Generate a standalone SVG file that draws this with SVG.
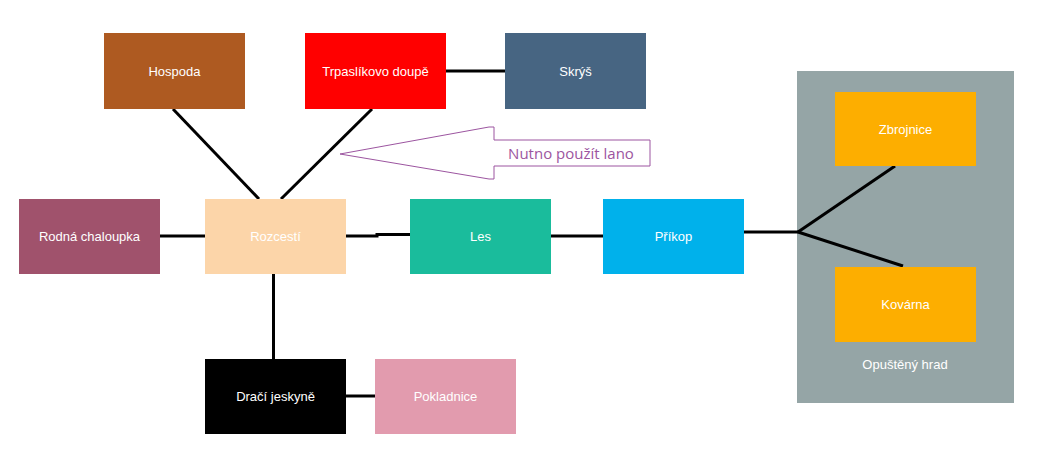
<svg xmlns="http://www.w3.org/2000/svg" width="1041" height="457" viewBox="0 0 1041 457">
<style>
.lbl{font-family:"Liberation Sans",Arial,sans-serif;font-size:13px;fill:#ffffff;text-anchor:middle}
.con{stroke:#000;stroke-width:3;fill:none}
</style>
<rect width="1041" height="457" fill="#ffffff"/>
<g id="opusteny-hrad">
<rect x="797" y="71" width="217" height="332" fill="#95a5a6"/>
<text class="lbl" x="905" y="369">Opuštěný hrad</text>
</g>
<g id="connectors">
<line class="con" x1="173" y1="109" x2="259" y2="199"/>
<line class="con" x1="372" y1="109" x2="281" y2="199"/>
<line class="con" x1="446" y1="71" x2="505" y2="71"/>
<line class="con" x1="160" y1="236" x2="205" y2="236"/>
<polyline class="con" points="346,236 377,236 377,234.5 410,234.5"/>
<line class="con" x1="551" y1="236" x2="603" y2="236"/>
<line class="con" x1="744" y1="232" x2="798" y2="232"/>
<line class="con" x1="798" y1="232" x2="895" y2="166"/>
<line class="con" x1="798" y1="232" x2="903" y2="266"/>
<line class="con" x1="273.5" y1="274" x2="273.5" y2="359"/>
<line class="con" x1="346" y1="396" x2="375" y2="396"/>
</g>
<g id="hospoda"><rect x="104" y="33" width="141" height="76" fill="#ae5a21"/><text class="lbl" x="174.5" y="75.5">Hospoda</text></g>
<g id="trpaslikovo-doupe"><rect x="305" y="33" width="141" height="76" fill="#ff0000"/><text class="lbl" x="375.5" y="75.5">Trpaslíkovo doupě</text></g>
<g id="skrys"><rect x="505" y="33" width="141" height="76" fill="#476582"/><text class="lbl" x="575.5" y="75.5">Skrýš</text></g>
<g id="rodna-chaloupka"><rect x="19" y="199" width="141" height="75" fill="#a0526c"/><text class="lbl" x="89.5" y="241">Rodná chaloupka</text></g>
<g id="rozcesti"><rect x="205" y="199" width="141" height="75" fill="#fcd5a9"/><text class="lbl" x="275.5" y="241">Rozcestí</text></g>
<g id="les"><rect x="410" y="199" width="141" height="75" fill="#1abc9c"/><text class="lbl" x="480.5" y="241">Les</text></g>
<g id="prikop"><rect x="603" y="199" width="141" height="75" fill="#00b1eb"/><text class="lbl" x="673.5" y="241">Příkop</text></g>
<g id="zbrojnice"><rect x="835" y="92" width="141" height="74" fill="#fdae00"/><text class="lbl" x="905.5" y="134">Zbrojnice</text></g>
<g id="kovarna"><rect x="835" y="267" width="141" height="75" fill="#fdae00"/><text class="lbl" x="905.5" y="309">Kovárna</text></g>
<g id="draci-jeskyne"><rect x="205" y="359" width="141" height="75" fill="#000000"/><text class="lbl" x="275.5" y="401">Dračí jeskyně</text></g>
<g id="pokladnice"><rect x="375" y="359" width="141" height="75" fill="#e29bae"/><text class="lbl" x="445.5" y="401">Pokladnice</text></g>
<g id="nutno-pouzit-lano">
<polygon points="340,154 489,127 494,127 494,140 650,140 650,166 494,166 494,179 489,179" fill="#ffffff" stroke="#9c55a0" stroke-width="1"/>
<text x="571" y="159" font-family="'Open Sans','Noto Sans',sans-serif" font-size="15" fill="#9c55a0" text-anchor="middle">Nutno použít lano</text>
</g>
</svg>
